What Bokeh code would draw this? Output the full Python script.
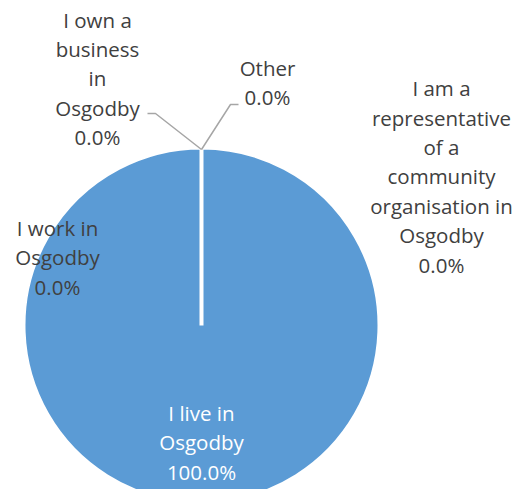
import numpy as np
from bokeh.plotting import figure
from bokeh.models import Range1d, ColumnDataSource
from bokeh.core.properties import value
from bokeh.embed import file_html
from bokeh.resources import INLINE

# ---- data ----
categories = ["I live in\nOsgodby", "I work in\nOsgodby", "I own a\nbusiness\nin\nOsgodby",
              "Other", "I am a\nrepresentative\nof a\ncommunity\norganisation in\nOsgodby"]
values = [100, 0, 0, 0, 0]

# ---- layout (pixel-like coordinates, y negative downward) ----
cx, cy, r = 201, -325, 178
label_x = [201, 57, 97, 267, 441]
label_y = [-442, -257, -78, -82, -176]
label_colors = ["white", "#404040", "#404040", "#404040", "#404040"]

vals = np.array(values, dtype=float)
frac = vals / vals.sum()
cum = np.concatenate([[0], np.cumsum(frac)])
start = np.pi / 2 - 2 * np.pi * cum[:-1]
end = np.pi / 2 - 2 * np.pi * cum[1:]
end = np.where(frac >= 1.0, start - 2 * np.pi * 0.99999, end)
texts = [f"{c}\n{100 * f:.1f}%" for c, f in zip(categories, frac)]

p = figure(width=517, height=489, output_backend="svg", toolbar_location=None,
           x_range=Range1d(0, 517), y_range=Range1d(-489, 0), min_border=0)
p.axis.visible = False
p.grid.visible = False
p.outline_line_color = None
p.background_fill_color = "white"

src = ColumnDataSource(dict(start=start[frac > 0], end=end[frac > 0]))
p.wedge(x=cx, y=cy, radius=r, start_angle="start", end_angle="end", direction="clock",
        fill_color="#5B9BD5", line_color="white", line_width=4, source=src)

# leader lines to top of pie
top_x, top_y = cx, cy + r - 2
p.line(x=[147, 155, top_x], y=[-113, -113, top_y], line_color="#A6A6A6", line_width=1.5)
p.line(x=[238, 230, top_x], y=[-104, -104, top_y], line_color="#A6A6A6", line_width=1.5)

tsrc = ColumnDataSource(dict(x=label_x, y=label_y, t=texts, c=label_colors))
p.text(x="x", y="y", text="t", text_color="c", source=tsrc, text_align="center",
       text_baseline="middle", text_font=value("Open Sans"), text_font_size="20.5px",
       text_line_height=1.05)

open("out.html", "w").write(file_html(p, INLINE))
